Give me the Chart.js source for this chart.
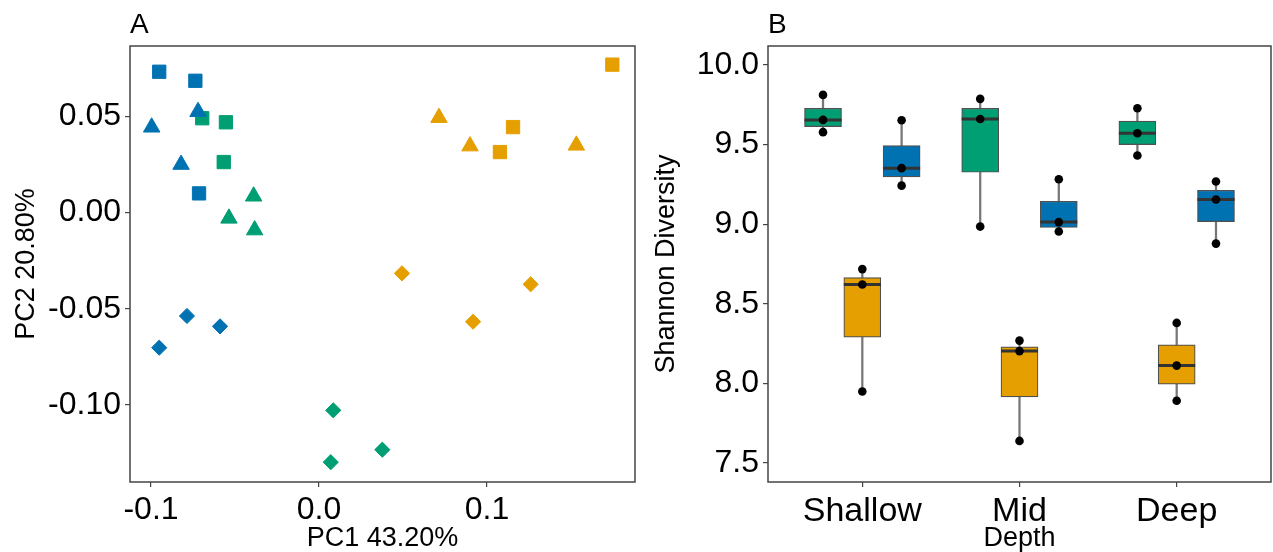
<!DOCTYPE html>
<html lang="en">
<head>
  <meta charset="UTF-8">
  <script src="https://cdn.jsdelivr.net/npm/chart.js"></script>
  <style>
    body { margin: 0; background: #fff; }
    .wrap { position: relative; width: 1273px; height: 552px; }
    #pcoa { position: absolute; left: 0; top: 0; }
    #shannon { position: absolute; left: 640px; top: 0; }
  </style>
</head>
<body>
  <div class="wrap">
    <canvas id="pcoa" width="640" height="552"></canvas>
    <canvas id="shannon" width="633" height="552"></canvas>
  </div>

  <script>
    // ---- panel A: PCoA scores (PC1, PC2) ----
    const blueSquareX = [-0.0951, -0.0736, -0.0714];
    const blueSquareY = [0.0733, 0.0686, 0.0100];
    const blueTriangleX = [-0.0996, -0.0720, -0.0821];
    const blueTriangleY = [0.0444, 0.0525, 0.0250];
    const blueDiamondX = [-0.0951, -0.0786, -0.0589];
    const blueDiamondY = [-0.0703, -0.0538, -0.0592];
    const greenSquareX = [-0.0695, -0.0554, -0.0567];
    const greenSquareY = [0.0491, 0.0470, 0.0263];
    const greenTriangleX = [-0.0389, -0.0536, -0.0383];
    const greenTriangleY = [0.0085, -0.0030, -0.0091];
    const greenDiamondX = [0.0085, 0.0070, 0.0377];
    const greenDiamondY = [-0.1029, -0.1299, -0.1234];
    const orangeSquareX = [0.1746, 0.1155, 0.1077];
    const orangeSquareY = [0.0770, 0.0445, 0.0315];
    const orangeTriangleX = [0.0714, 0.0899, 0.1532];
    const orangeTriangleY = [0.0494, 0.0346, 0.0350];
    const orangeDiamondX = [0.0494, 0.1260, 0.0917];
    const orangeDiamondY = [-0.0316, -0.0373, -0.0568];

    const pcoaXTicks = [-0.1, 0, 0.1];
    const pcoaYTicks = [-0.10, -0.05, 0, 0.05];

    // ---- panel B: Shannon diversity by depth ----
    const depths = ['Shallow', 'Mid', 'Deep'];
    const greenLow = [9.578, 8.985, 9.431];
    const greenQ1 = [9.613, 9.326, 9.500];
    const greenMed = [9.655, 9.661, 9.571];
    const greenQ3 = [9.728, 9.728, 9.647];
    const greenHigh = [9.812, 9.787, 9.728];
    const orangeLow = [7.949, 7.639, 7.891];
    const orangeQ1 = [8.291, 7.916, 7.996];
    const orangeMed = [8.621, 8.203, 8.112];
    const orangeQ3 = [8.665, 8.230, 8.242];
    const orangeHigh = [8.718, 8.269, 8.380];
    const blueLow = [9.242, 8.954, 8.878];
    const blueQ1 = [9.297, 8.979, 9.016];
    const blueMed = [9.352, 9.013, 9.155];
    const blueQ3 = [9.493, 9.144, 9.213];
    const blueHigh = [9.653, 9.282, 9.268];
    const shannonTicks = [7.5, 8.0, 8.5, 9.0, 9.5, 10.0];

    const GREEN = '#009E73', ORANGE = '#E69F00', BLUE = '#0072B2';
    const FONT = 'Liberation Sans';

    const frame = {
      id: 'frame',
      afterDraw(chart) {
        const { ctx, chartArea: a } = chart;
        ctx.save();
        ctx.strokeStyle = '#444';
        ctx.lineWidth = 1.5;
        ctx.strokeRect(a.left, a.top, a.right - a.left, a.bottom - a.top);
        ctx.restore();
      }
    };

    function axis(min, max, ticks, fmt, title, fit, tickSize) {
      return {
        type: 'linear',
        min: min,
        max: max,
        offset: false,
        afterBuildTicks: s => { s.ticks = ticks.map(v => ({ value: v })); },
        afterFit: fit,
        border: { display: false },
        grid: { drawOnChartArea: false, drawTicks: true, tickLength: 5, color: '#444', lineWidth: 1.2, offset: false },
        ticks: {
          autoSkip: false, maxRotation: 0, padding: 4, color: '#000',
          font: { family: FONT, size: tickSize || 32, lineHeight: 1.2 },
          callback: fmt
        },
        title: { display: true, text: title, color: '#000', font: { family: FONT, size: 27, lineHeight: 1 }, padding: { top: 13, bottom: 0 } }
      };
    }

    function letter(t) {
      return {
        display: true, text: t, align: 'start', fullSize: false, color: '#000',
        font: { family: FONT, size: 28, weight: 'normal', lineHeight: 1.2 },
        padding: { top: 8, bottom: 4.4 }
      };
    }

    const zip = (xs, ys) => xs.map((x, i) => ({ x: x, y: ys[i] }));

    function pts(label, xs, ys, color, style, r) {
      return {
        label: label, data: zip(xs, ys), pointStyle: style, pointRadius: r,
        backgroundColor: color, borderColor: color, borderWidth: 1
      };
    }

    new Chart(document.getElementById('pcoa'), {
      type: 'scatter',
      data: {
        datasets: [
          pts('blue triangle', blueTriangleX, blueTriangleY, BLUE, 'triangle', 9.5),
          pts('blue square', blueSquareX, blueSquareY, BLUE, 'rect', 9.4),
          pts('blue diamond', blueDiamondX, blueDiamondY, BLUE, 'rectRot', 7.6),
          pts('green triangle', greenTriangleX, greenTriangleY, GREEN, 'triangle', 9.5),
          pts('green square', greenSquareX, greenSquareY, GREEN, 'rect', 9.4),
          pts('green diamond', greenDiamondX, greenDiamondY, GREEN, 'rectRot', 7.6),
          pts('orange triangle', orangeTriangleX, orangeTriangleY, ORANGE, 'triangle', 9.5),
          pts('orange square', orangeSquareX, orangeSquareY, ORANGE, 'rect', 9.4),
          pts('orange diamond', orangeDiamondX, orangeDiamondY, ORANGE, 'rectRot', 7.6)
        ]
      },
      options: {
        responsive: false,
        animation: false,
        layout: { autoPadding: false, padding: { left: 0, right: 5, top: 0, bottom: 0 } },
        plugins: { legend: { display: false }, tooltip: { enabled: false }, title: letter('A') },
        scales: {
          x: axis(-0.1125, 0.1881, pcoaXTicks, v => v.toFixed(1), 'PC1 43.20%', s => { s.height = 70; }),
          y: axis(-0.1402, 0.0867, pcoaYTicks, v => v.toFixed(2), 'PC2 20.80%', s => { s.width = 130; })
        }
      },
      plugins: [frame]
    });

    // boxes dodged inside each depth: green, orange, blue
    const groups = [
      { color: GREEN, shift: -0.25, low: greenLow, q1: greenQ1, med: greenMed, q3: greenQ3, high: greenHigh },
      { color: ORANGE, shift: 0, low: orangeLow, q1: orangeQ1, med: orangeMed, q3: orangeQ3, high: orangeHigh },
      { color: BLUE, shift: 0.25, low: blueLow, q1: blueQ1, med: blueMed, q3: blueQ3, high: blueHigh }
    ];

    const dots = [], medians = [], boxes = [], whiskers = [];
    groups.forEach(g => {
      const xs = depths.map((d, i) => i + 1 + g.shift);
      dots.push({
        type: 'scatter',
        data: [...zip(xs, g.low), ...zip(xs, g.med), ...zip(xs, g.high)],
        pointRadius: 4.3, backgroundColor: '#000', borderWidth: 0
      });
      medians.push({
        type: 'scatter', data: zip(xs, g.med), pointStyle: 'line', pointRadius: 18.5,
        borderColor: '#333', borderWidth: 3
      });
      boxes.push({
        type: 'bar', data: xs.map((x, i) => ({ x: x, y: [g.q1[i], g.q3[i]] })),
        backgroundColor: g.color, borderColor: '#505050', borderWidth: 1.2, borderSkipped: false,
        barThickness: 37, grouped: false
      });
      whiskers.push({
        type: 'bar', data: xs.map((x, i) => ({ x: x, y: [g.low[i], g.high[i]] })),
        backgroundColor: '#777', borderWidth: 0, barThickness: 1.6, grouped: false
      });
    });

    new Chart(document.getElementById('shannon'), {
      type: 'bar',
      data: { datasets: [...dots, ...medians, ...boxes, ...whiskers] },
      options: {
        responsive: false,
        animation: false,
        layout: { autoPadding: false, padding: { left: 0, right: 2, top: 0, bottom: 0 } },
        plugins: { legend: { display: false }, tooltip: { enabled: false }, title: letter('B') },
        scales: {
          x: axis(0.4, 3.6, [1, 2, 3], v => depths[v - 1], 'Depth', s => { s.height = 70; }, 34),
          y: axis(7.381, 10.119, shannonTicks, v => v.toFixed(1), 'Shannon Diversity', s => { s.width = 128; })
        }
      },
      plugins: [frame]
    });
  </script>
</body>
</html>
